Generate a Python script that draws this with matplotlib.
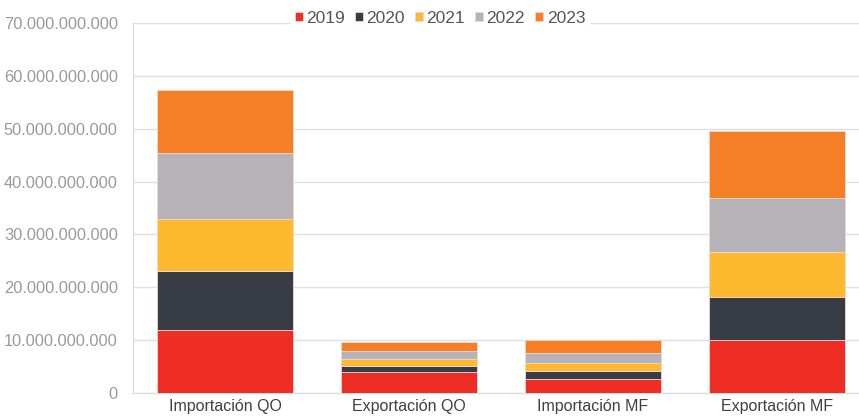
import matplotlib
matplotlib.use("Agg")
import matplotlib.pyplot as plt
from matplotlib.ticker import FuncFormatter, MultipleLocator

categories = ["Importación QO", "Exportación QO", "Importación MF", "Exportación MF"]
years = ["2019", "2020", "2021", "2022", "2023"]
v2019 = [11.9e9, 3.97e9, 2.65e9, 10.0e9]
v2020 = [11.2e9, 1.2e9, 1.57e9, 8.2e9]
v2021 = [9.8e9, 1.26e9, 1.4e9, 8.5e9]
v2022 = [12.5e9, 1.5e9, 1.95e9, 10.2e9]
v2023 = [11.9e9, 1.65e9, 2.5e9, 12.7e9]
series = [v2019, v2020, v2021, v2022, v2023]
colors = ["#EE2E24", "#383C45", "#FDB92F", "#B5B3B8", "#F57F27"]

plt.rcParams["font.family"] = ["Liberation Sans", "DejaVu Sans"]
fig = plt.figure(figsize=(8.59, 4.2), dpi=100)
ax = fig.add_axes([133/859, 27/420, 736/859, 370/420])

x = list(range(len(categories)))
bottom = [0.0]*len(categories)
for name, vals, c in zip(years, series, colors):
    ax.bar(x, vals, bottom=bottom, width=0.74, color=c, edgecolor="#f4d6d0", linewidth=0.6,
           label=name, zorder=3)
    bottom = [b+v for b, v in zip(bottom, vals)]

ax.set_ylim(0, 70e9)
ax.set_xlim(-0.5, 3.5)
ax.yaxis.set_major_locator(MultipleLocator(10e9))
ax.yaxis.set_major_formatter(FuncFormatter(lambda v, p: f"{int(round(v)):,}".replace(",", ".")))
ax.grid(axis="y", color="#e0e0e0", linewidth=1, zorder=0)
for s in ["top", "right"]:
    ax.spines[s].set_visible(False)
ax.spines["left"].set_color("#d9d9d9")
ax.spines["bottom"].set_color("#d9d9d9")
ax.tick_params(axis="y", length=0, labelsize=11.8, labelcolor="#9a9a9a", pad=11)
ax.tick_params(axis="x", length=0, labelsize=11.5, labelcolor="#404040", pad=4)
ax.set_xticks(x)
ax.set_xticklabels(categories)

leg = ax.legend(loc="center", bbox_to_anchor=((440-133)/736, 1.0135), ncol=5, frameon=True,
                fontsize=12.5, handlelength=0.45, handleheight=0.45, handletextpad=0.2,
                columnspacing=0.59, borderpad=0.2, edgecolor="white", fancybox=False, framealpha=1)
for t in leg.get_texts():
    t.set_color("#555555")

fig.savefig("out.png", dpi=100)
